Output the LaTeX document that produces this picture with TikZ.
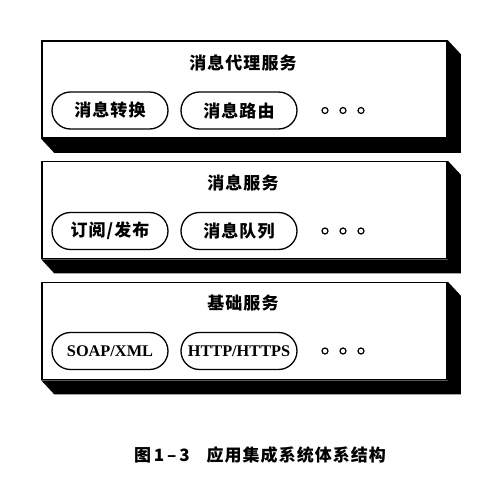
\documentclass[tikz,border=0pt]{standalone}
\usepackage{fontspec}
\setmainfont{Liberation Serif}
\newfontfamily\cjk{Noto Sans CJK SC}[LetterSpace=6]
\usetikzlibrary{shapes.misc}

\begin{document}
\begin{tikzpicture}[x=1pt, y=-1pt,
    layer/.style={draw, fill=white, line width=1.6pt, minimum width=405pt,
        minimum height=97pt, inner sep=0pt},
    title/.style={font=\cjk\bfseries\fontsize{17}{20}\selectfont},
    pill/.style={draw, rounded rectangle, line width=1.3pt, minimum width=116pt,
        minimum height=37pt, inner sep=0pt, font=\cjk\bfseries\fontsize{17}{20}\selectfont},
    latinpill/.style={pill, font=\bfseries\fontsize{16.3}{19}\selectfont},
    dotring/.style={line width=1.2pt}]
    \useasboundingbox (0,0) rectangle (501,487);

    % 1. Lớp trên: dịch vụ môi giới thông điệp
    \node[layer] (broker) at (244.5,89.5) {};
    \fill (broker.north east) -- ++(13,14) -- ([shift={(13,14)}]broker.south east)
        -- ([shift={(13,14)}]broker.south west) -- (broker.south west)
        -- (broker.south east) -- cycle;
    \node[title] (brokertitle) at (243,63) {消息代理服务};
    \node[pill] (convert) at (110,110.5) {消息转换};
    \node[pill] (route) at (239,110.5) {消息路由};
    \draw[dotring] (325,110.5) circle[radius=3pt] (343,110.5) circle[radius=3pt]
        (361,110.5) circle[radius=3pt];

    % 2. Lớp giữa: dịch vụ thông điệp
    \node[layer] (message) at (244.5,210) {};
    \fill (message.north east) -- ++(13,14) -- ([shift={(13,14)}]message.south east)
        -- ([shift={(13,14)}]message.south west) -- (message.south west)
        -- (message.south east) -- cycle;
    \node[title] (messagetitle) at (243,183) {消息服务};
    \node[pill] (pubsub) at (110,231) {订阅/发布};
    \node[pill] (queue) at (239,231) {消息队列};
    \draw[dotring] (325,231) circle[radius=3pt] (343,231) circle[radius=3pt]
        (361,231) circle[radius=3pt];

    % 3. Lớp dưới: dịch vụ cơ sở
    \node[layer] (base) at (244.5,331) {};
    \fill (base.north east) -- ++(13,14) -- ([shift={(13,14)}]base.south east)
        -- ([shift={(13,14)}]base.south west) -- (base.south west)
        -- (base.south east) -- cycle;
    \node[title] (basetitle) at (243,303) {基础服务};
    \node[latinpill] (soap) at (110,351) {SOAP/XML};
    \node[latinpill] (http) at (239,351) {HTTP/HTTPS};
    \draw[dotring] (325,351) circle[radius=3pt] (343,351) circle[radius=3pt]
        (361,351) circle[radius=3pt];

    % 4. Chú thích hình
    \node[title] (caption) at (260,455) {图\,1\,–\,3\quad 应用集成系统体系结构};
\end{tikzpicture}
\end{document}
